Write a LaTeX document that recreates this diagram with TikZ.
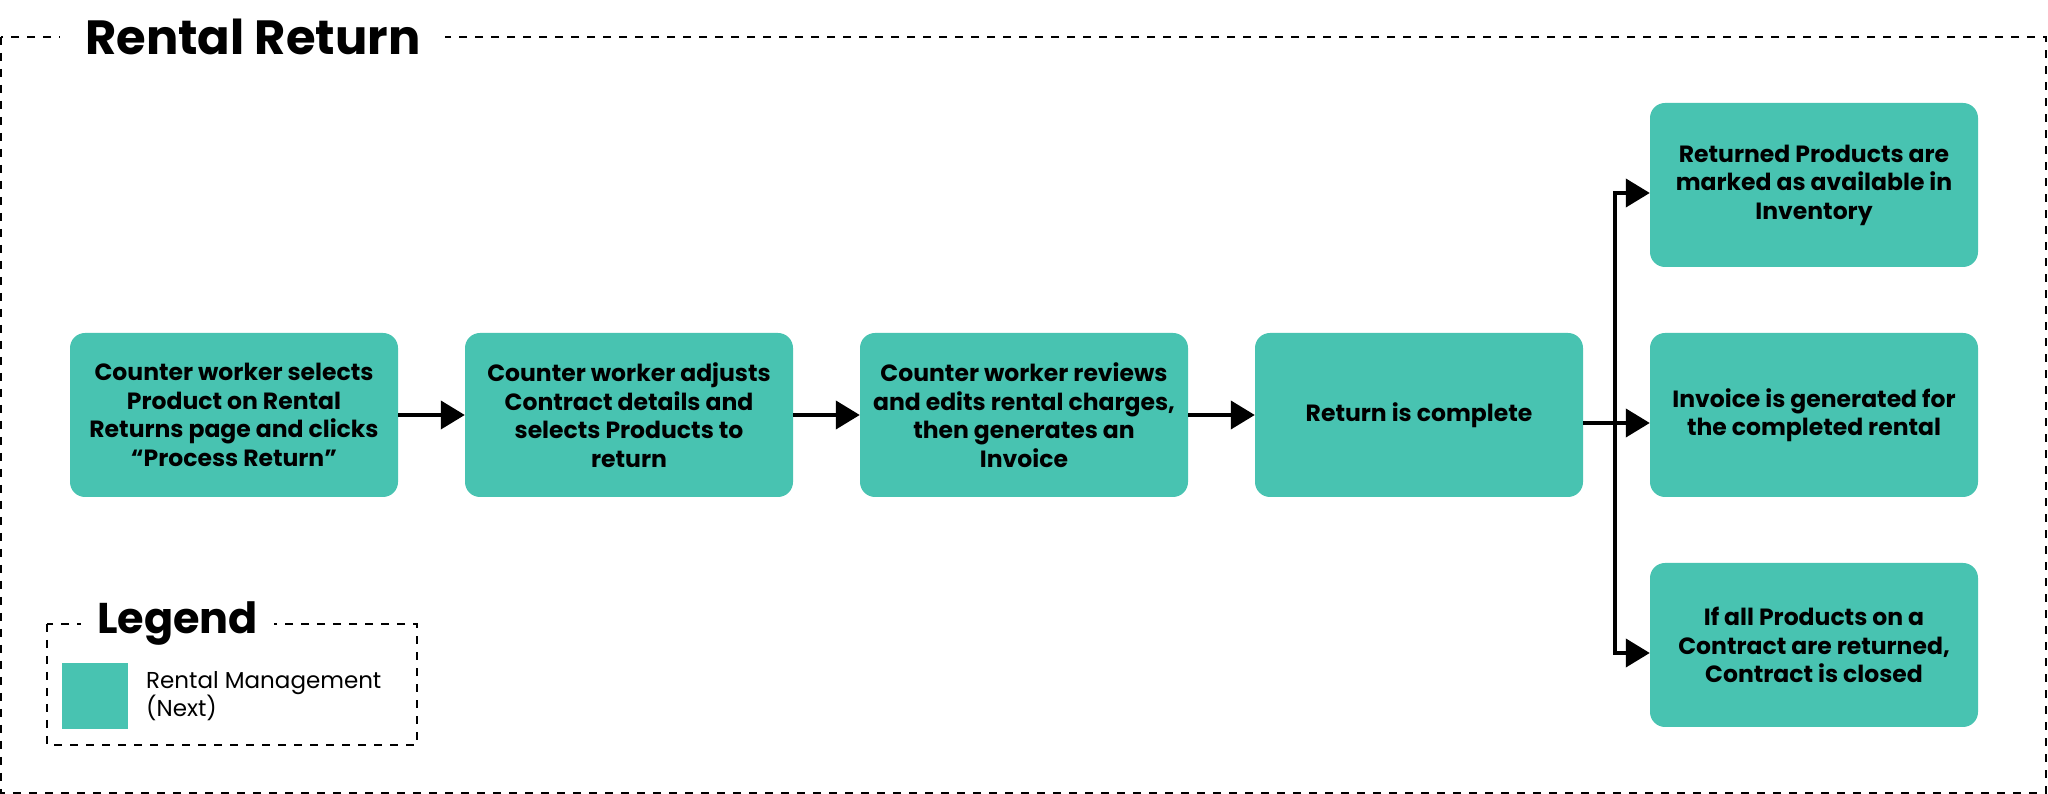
\documentclass[tikz,border=0pt]{standalone}
\usepackage{fontspec}
\setmainfont{Poppins}
\usetikzlibrary{arrows.meta}
\definecolor{rental}{RGB}{72,195,177}

\tikzset{
  proc/.style={fill=rental, rounded corners=15pt, minimum width=328pt,
    minimum height=164pt, align=center,
    font=\bfseries\fontsize{23.5}{28.5}\selectfont},
  flow/.style={line width=4pt, -{Triangle[length=24pt,width=28pt]}},
  frame/.style={line width=2pt, dash pattern=on 8pt off 8pt},
  heading/.style={fill=white, anchor=west, inner ysep=0pt}
}

\begin{document}
\begin{tikzpicture}[x=1pt, y=1pt, node distance=395pt]
        \useasboundingbox (0,0) rectangle (2048,794);
        \draw[frame] (1,757) rectangle (2046,1);
        \node[heading, inner xsep=25pt, font=\bfseries\fontsize{48}{54}\selectfont] (title) at (60,757) {Rental Return};

        \node[proc] (1) at (234,379) {Counter worker selects\\Product on Rental\\Returns page and clicks\\“Process Return”};
        \node[proc, right of=1] (2) {Counter worker adjusts\\Contract details and\\selects Products to\\return};
        \node[proc, right of=2] (3) {Counter worker reviews\\and edits rental charges,\\then generates an\\Invoice};
        \node[proc, right of=3] (4) {Return is complete};
        \node[proc, right of=4] (6) {Invoice is generated for\\the completed rental};
        \node[proc, above of=6, yshift=-165pt] (5) {Returned Products are\\marked as available in\\Inventory};
        \node[proc, below of=6, yshift=165pt] (7) {If all Products on a\\Contract are returned,\\Contract is closed};

        \draw[flow] (1) -- (2);
        \draw[flow] (2) -- (3);
        \draw[flow] (3) -- (4);
        \draw[flow] ([yshift=-8pt]4.east) -- ([yshift=-8pt]6.west);
        \draw[flow] ([yshift=-8pt]4.east) ++(32,0) |- ([yshift=-8pt]5.west);
        \draw[flow] ([yshift=-8pt]4.east) ++(32,0) |- ([yshift=-8pt]7.west);

        % legend
        \draw[frame] (47,170) rectangle (417,49);
        \node[heading, inner xsep=16pt, font=\bfseries\fontsize{43}{48}\selectfont] (legend) at (81,170) {Legend};
        \node[fill=rental, minimum size=66pt, inner sep=0pt] (key) at (95,98) {};
        \node[right of=key, node distance=51pt, anchor=west, inner sep=0pt, align=left,
          font=\fontsize{23}{28}\selectfont] (keytext) {Rental Management\\(Next)};
      \end{tikzpicture}
\end{document}
